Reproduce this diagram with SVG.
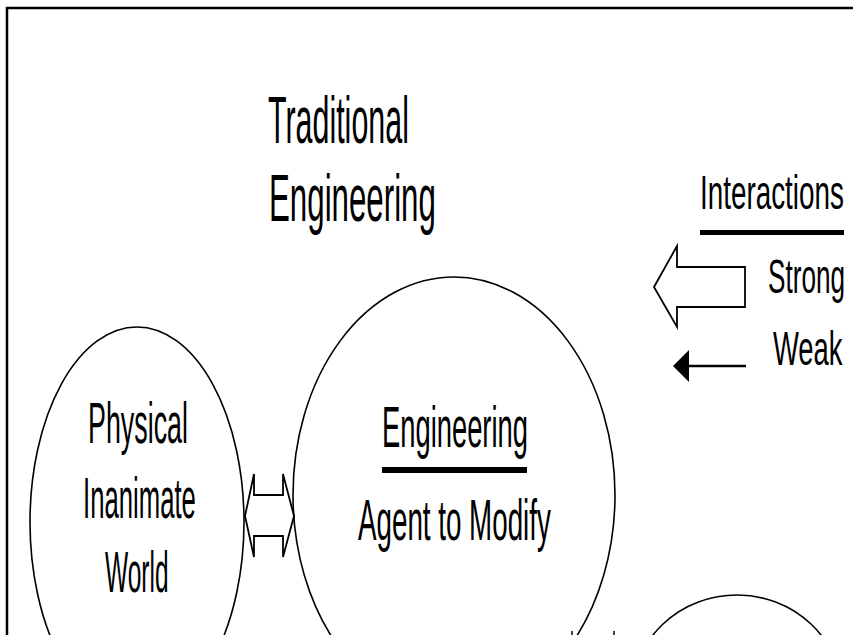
<svg xmlns="http://www.w3.org/2000/svg" width="853" height="635" viewBox="0 0 853 635">
  <style>
    .t { font-family: "Liberation Sans", Arial, sans-serif; fill: #000; }
    .big { font-size: 66px; }
    .mid { font-size: 57px; }
    .sm { font-size: 48px; }
    .node { fill: none; stroke: #000; stroke-width: 1.6; }
    .arrow { fill: #fff; stroke: #000; stroke-width: 1.8; stroke-linejoin: miter; }
  </style>
  <rect width="853" height="635" fill="#fff"/>
  <!-- frame -->
  <path d="M7,635 V8 H853" fill="none" stroke="#000" stroke-width="2.5"/>

  <!-- heading (narrow type: horizontally condensed) -->
  <g id="title">
    <text class="t big" transform="translate(268,143) scale(0.461,1)">Traditional</text>
    <text class="t big" transform="translate(269,221) scale(0.474,1)">Engineering</text>
  </g>

  <!-- key -->
  <g id="legend">
    <text class="t sm" transform="translate(700,209) scale(0.58,1)">Interactions</text>
    <rect x="700" y="230" width="144" height="5" fill="#000"/>
    <polygon class="arrow" points="654,287 677,246 677,267 745,267 745,307 677,307 677,327"/>
    <text class="t sm" transform="translate(768,293) scale(0.545,1)">Strong</text>
    <line x1="746" y1="366" x2="684" y2="366" stroke="#000" stroke-width="2.5"/>
    <polygon points="673,366 689,350 689,382" fill="#000"/>
    <text class="t sm" transform="translate(773,365) scale(0.571,1)">Weak</text>
  </g>

  <g id="physical-world">
    <ellipse class="node" cx="137" cy="522" rx="107" ry="195"/>
    <text class="t mid" transform="translate(88,443) scale(0.471,1)">Physical</text>
    <text class="t mid" transform="translate(83,518) scale(0.451,1)">Inanimate</text>
    <text class="t mid" transform="translate(105,592) scale(0.43,1)">World</text>
  </g>

  <g id="engineering">
    <ellipse class="node" cx="454" cy="495" rx="161" ry="218"/>
    <text class="t mid" transform="translate(382,447) scale(0.48,1)">Engineering</text>
    <rect x="382" y="467" width="145" height="6" fill="#000"/>
    <text class="t mid" transform="translate(358,540) scale(0.487,1)">Agent to Modify</text>
  </g>

  <g id="lower-node">
    <ellipse class="node" cx="737" cy="695" rx="105" ry="100" stroke-width="2.4"/>
  </g>

  <g id="connectors">
    <polygon class="arrow" points="245,516 254,474 254,495 283,495 283,474 294,516 283,557 283,536 254,536 254,557"/>
    <line x1="572" y1="631" x2="572" y2="635" stroke="#000" stroke-width="1.5"/>
    <line x1="614" y1="631" x2="614" y2="635" stroke="#000" stroke-width="1.5"/>
  </g>
</svg>
